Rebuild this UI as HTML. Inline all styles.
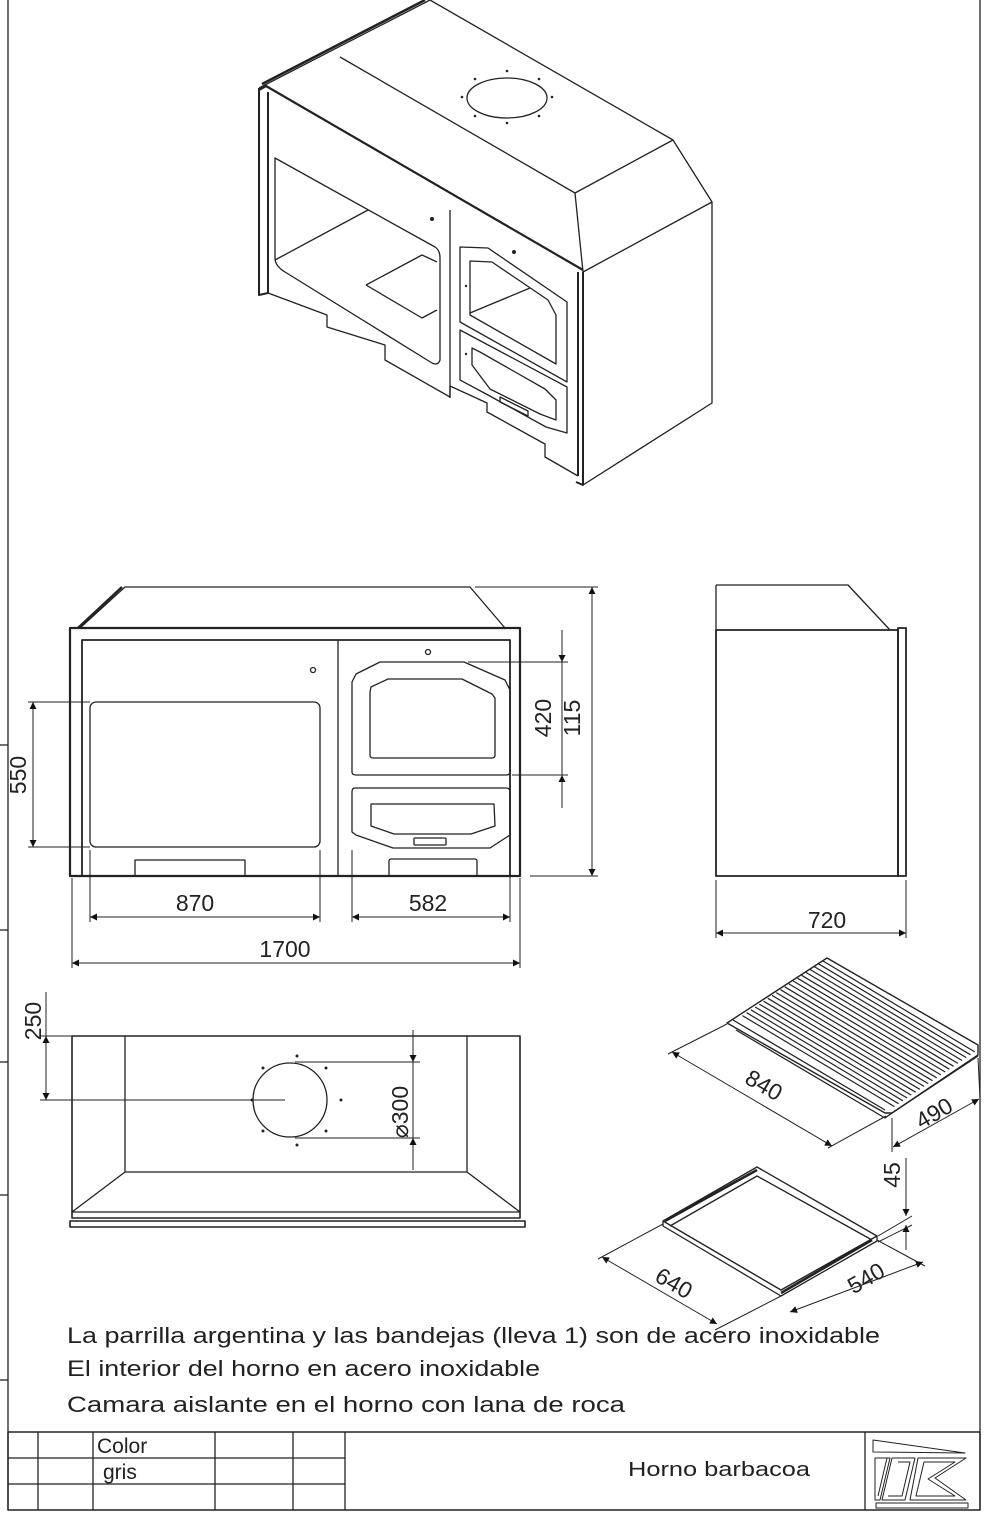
<!DOCTYPE html>
<html><head><meta charset="utf-8"><style>
html,body{margin:0;padding:0;background:#fff}
svg{display:block}
text{font-family:"Liberation Sans",sans-serif;fill:#222}
</style></head><body>
<svg width="994" height="1514" viewBox="0 0 994 1514" xmlns="http://www.w3.org/2000/svg">
<defs>
<marker id="a" viewBox="0 0 10 10" refX="10" refY="5" markerWidth="12" markerHeight="7" orient="auto-start-reverse" markerUnits="userSpaceOnUse"><path d="M0,0 L10,5 L0,10 z" fill="#111"/></marker>
<line id="slat" x1="733" y1="1022" x2="885" y2="1113" stroke="#222" stroke-width="1.2"/>
</defs>
<g fill="none" stroke="#222" stroke-width="1.3" stroke-linejoin="round">
<line x1="8" y1="0" x2="8" y2="1432"/>
<line x1="980" y1="0" x2="980" y2="1432"/>
<line x1="0" y1="745" x2="8" y2="745"/><line x1="0" y1="930" x2="8" y2="930"/>
<line x1="0" y1="1062" x2="8" y2="1062"/><line x1="0" y1="1195" x2="8" y2="1195"/><line x1="0" y1="1380" x2="8" y2="1380"/>

<path d="M259,88 L430,0 M430,0 L673,140 L712,202 L712,403 L583,485 M673,140 L575,193 L583,272 L712,202"/>
<path d="M259,90 L266,86 L583,270" stroke-width="2.2"/>
<path d="M262,84 L425,0" stroke-width="2.5"/>
<line x1="340" y1="57" x2="575" y2="193"/>
<ellipse cx="507" cy="98" rx="40" ry="20"/>
<g fill="#222" stroke="none"><circle cx="475" cy="79" r="1.3"/><circle cx="507" cy="71" r="1.3"/><circle cx="539" cy="79" r="1.3"/><circle cx="552" cy="97" r="1.3"/><circle cx="539" cy="116" r="1.3"/><circle cx="507" cy="123" r="1.3"/><circle cx="475" cy="116" r="1.3"/><circle cx="462" cy="97" r="1.3"/><circle cx="432" cy="219" r="2"/><circle cx="514" cy="252" r="2"/><circle cx="466" cy="286" r="1.2"/><circle cx="466" cy="354" r="1.2"/></g>
<path d="M259,88 L259,295 L268,293 L268,92" stroke-width="2"/>
<path d="M578,272 L578,476 M583,272 L583,485 L576,482" stroke-width="2"/>
<path d="M268,293 L327,315 L327,327 L385,345 L385,360 L450,397 L450,386 L487,403 L487,412 L545,444 L545,457 L578,476"/>
<path d="M275,158 L435,247 Q440,250 440,258 L440,360 Q438,366 432,363 L285,272 Q275,266 275,258 Z"/>
<line x1="275" y1="260" x2="368" y2="210"/><path d="M366,285 L422,255 L437,262 M366,285 L422,318 L437,310"/>
<line x1="450" y1="210" x2="450" y2="398"/>
<path d="M460,247 L488,248 L567,302 L567,382 L460,322 Z"/>
<path d="M470,261 L492,262 L548,300 L556,315 L556,364 L470,315 Z"/>
<line x1="470" y1="313" x2="530" y2="288"/>
<path d="M460,330 L567,387 L567,433 L546,427 L488,395 L460,380 Z"/>
<path d="M472,348 L480,352 L545,389 L556,400 L556,420 L540,414 L490,389 L472,365 Z"/>
<path d="M500,397 L528,411 L528,416 L500,402 Z"/>

<path d="M80,628 L125,587 L470,587 L505,628"/>
<line x1="78" y1="628" x2="122" y2="587" stroke-width="2.5"/>
<rect x="70" y="628" width="450" height="248" stroke-width="2.2"/>
<path d="M82,876 L82,640 L510,640 L510,876" stroke-width="1.8"/>
<line x1="338" y1="640" x2="338" y2="876"/>
<rect x="90" y="702" width="230" height="145" rx="6"/>
<circle cx="313" cy="670" r="2.5"/><circle cx="428" cy="652" r="2.5"/>
<rect x="135" y="860" width="110" height="16"/>
<path d="M356,674 L380,662 L464,662 L505,680 L510,690 L510,772 Q510,775 506,775 L356,775 Q352,775 352,772 L352,682 Z"/>
<path d="M371,687 L388,679 L462,679 L492,694 L495,698 L495,755 Q495,758 492,758 L373,758 Q370,758 370,755 L370,692 Z"/>
<path d="M355,788 L506,788 Q510,788 510,792 L510,835 L490,848 L393,848 L356,835 L352,832 L352,792 Q352,788 355,788 Z"/>
<path d="M371,804 L494,804 L495,826 L471,834 L394,834 L371,826 Z"/>
<rect x="414" y="838" width="32" height="7" rx="1"/>
<rect x="389" y="859" width="88" height="17" rx="2"/>
<g stroke-width="1">
<line x1="28" y1="702" x2="90" y2="702"/><line x1="28" y1="847" x2="90" y2="847"/>
<line x1="33" y1="702" x2="33" y2="847" marker-start="url(#a)" marker-end="url(#a)"/>
<line x1="90" y1="850" x2="90" y2="922"/><line x1="320" y1="850" x2="320" y2="922"/>
<line x1="90" y1="917" x2="320" y2="917" marker-start="url(#a)" marker-end="url(#a)"/>
<line x1="352" y1="850" x2="352" y2="922"/><line x1="510" y1="876" x2="510" y2="922"/>
<line x1="352" y1="917" x2="510" y2="917" marker-start="url(#a)" marker-end="url(#a)"/>
<line x1="72" y1="878" x2="72" y2="968"/><line x1="520" y1="878" x2="520" y2="968"/>
<line x1="72" y1="963" x2="520" y2="963" marker-start="url(#a)" marker-end="url(#a)"/>
<line x1="468" y1="662" x2="568" y2="662"/><line x1="512" y1="775" x2="568" y2="775"/>
<line x1="562" y1="630" x2="562" y2="662" marker-end="url(#a)"/><line x1="562" y1="808" x2="562" y2="775" marker-end="url(#a)"/>
<line x1="562" y1="662" x2="562" y2="775"/>
<line x1="475" y1="587" x2="598" y2="587"/><line x1="530" y1="876" x2="598" y2="876"/>
<line x1="592" y1="587" x2="592" y2="876" marker-start="url(#a)" marker-end="url(#a)"/>
</g>

<path d="M716,585 L848,585 L890,630"/>
<rect x="716" y="630" width="182" height="246" stroke-width="1.8"/>
<rect x="898" y="628" width="8" height="248" stroke-width="1.8"/>
<line x1="716" y1="585" x2="716" y2="630"/>
<g stroke-width="1">
<line x1="716" y1="880" x2="716" y2="938"/><line x1="906" y1="880" x2="906" y2="938"/>
<line x1="716" y1="933" x2="906" y2="933" marker-start="url(#a)" marker-end="url(#a)"/>
</g>

<rect x="72" y="1036" width="448" height="182" stroke-width="1.6"/>
<path d="M125,1036 L125,1172 L467,1172 L467,1036 M125,1172 L72,1212 M467,1172 L520,1212"/>
<line x1="72" y1="1212" x2="520" y2="1212"/>
<rect x="70" y="1221" width="455" height="6" stroke-width="1.6"/>
<circle cx="290" cy="1100" r="37"/>
<g fill="#222" stroke="none"><circle cx="297" cy="1056" r="1.5"/><circle cx="326" cy="1068" r="1.5"/><circle cx="341" cy="1100" r="1.5"/><circle cx="326" cy="1131" r="1.5"/><circle cx="297" cy="1145" r="1.5"/><circle cx="263" cy="1131" r="1.5"/><circle cx="252" cy="1100" r="1.5"/><circle cx="263" cy="1068" r="1.5"/></g>
<g stroke-width="1">
<line x1="40" y1="1036" x2="72" y2="1036"/><line x1="40" y1="1100" x2="285" y2="1100"/>
<line x1="46" y1="992" x2="46" y2="1100"/>
<line x1="46" y1="1036" x2="46" y2="1100" marker-start="url(#a)" marker-end="url(#a)"/>
<line x1="295" y1="1062" x2="420" y2="1062"/><line x1="295" y1="1138" x2="420" y2="1138"/>
<line x1="413" y1="1030" x2="413" y2="1062" marker-end="url(#a)"/><line x1="413" y1="1170" x2="413" y2="1138" marker-end="url(#a)"/>
<line x1="413" y1="1062" x2="413" y2="1138"/>
</g>

<path d="M727,1023 L827,958 L978,1045 L978,1055 L892,1113 L885,1113 Z" stroke-width="1.4"/>
<path d="M733,1020 L885,1110 M736,1030 L885,1118 L892,1113 M892,1113 L978,1056"/>
<use href="#slat" transform="translate(9.4,-6.4)"/><use href="#slat" transform="translate(13.6,-9.3)"/>
<use href="#slat" transform="translate(17.9,-12.2)"/><use href="#slat" transform="translate(22.1,-15)"/>
<use href="#slat" transform="translate(26.3,-17.9)"/><use href="#slat" transform="translate(30.6,-20.8)"/>
<use href="#slat" transform="translate(34.8,-23.7)"/><use href="#slat" transform="translate(39,-26.6)"/>
<use href="#slat" transform="translate(43.2,-29.4)"/><use href="#slat" transform="translate(47.5,-32.3)"/>
<use href="#slat" transform="translate(51.7,-35.2)"/><use href="#slat" transform="translate(55.9,-38.1)"/>
<use href="#slat" transform="translate(60.2,-41)"/><use href="#slat" transform="translate(64.4,-43.8)"/>
<use href="#slat" transform="translate(68.6,-46.7)"/><use href="#slat" transform="translate(72.9,-49.6)"/>
<use href="#slat" transform="translate(77.1,-52.5)"/><use href="#slat" transform="translate(81.3,-55.4)"/>
<use href="#slat" transform="translate(85.5,-58.2)"/><use href="#slat" transform="translate(89.8,-61.1)"/>
<g stroke-width="1">
<line x1="727" y1="1024" x2="668" y2="1054"/><line x1="886" y1="1116" x2="828" y2="1148"/>
<line x1="672" y1="1052" x2="832" y2="1146" marker-start="url(#a)" marker-end="url(#a)"/>
<line x1="892" y1="1118" x2="892" y2="1152"/><line x1="978" y1="1058" x2="980" y2="1098"/>
<line x1="893" y1="1147" x2="979" y2="1099" marker-start="url(#a)" marker-end="url(#a)"/>
</g>

<path d="M663,1221 L757,1167 L877,1236 L781,1290 Z" stroke-width="1.4"/>
<path d="M665,1221 L757,1170" stroke-width="2.5"/>
<path d="M670,1226 L757,1176 L872,1240 M663,1221 L663,1226 L781,1296 L877,1241 L877,1236"/>
<path d="M781,1293 L872,1240" stroke-width="2.5"/>
<g stroke-width="1">
<line x1="663" y1="1224" x2="598" y2="1259"/><line x1="781" y1="1296" x2="715" y2="1330"/>
<line x1="602" y1="1257" x2="717" y2="1324" marker-start="url(#a)" marker-end="url(#a)"/>
<line x1="877" y1="1240" x2="925" y2="1266"/>
<line x1="790" y1="1312" x2="923" y2="1262" marker-start="url(#a)" marker-end="url(#a)"/>
<line x1="878" y1="1236" x2="912" y2="1216"/><line x1="878" y1="1242" x2="912" y2="1225"/>
<line x1="906" y1="1158" x2="906" y2="1216" marker-end="url(#a)"/>
<line x1="906" y1="1250" x2="906" y2="1225" marker-end="url(#a)"/>
</g>

<rect x="8" y="1432" width="972" height="78" stroke-width="1.6"/>
<line x1="8" y1="1458" x2="345" y2="1458"/><line x1="8" y1="1484" x2="345" y2="1484"/>
<line x1="38" y1="1432" x2="38" y2="1510"/><line x1="93" y1="1432" x2="93" y2="1510"/>
<line x1="215" y1="1432" x2="215" y2="1510"/><line x1="293" y1="1432" x2="293" y2="1510"/>
<line x1="345" y1="1432" x2="345" y2="1510"/><line x1="865" y1="1432" x2="865" y2="1510"/>
<g stroke-width="1">
<path d="M873,1440 L965,1453 L873,1452 Z"/>
<path d="M875,1458 L890,1458 L880,1500 L875,1500 Z M880,1458 L887,1458 L878,1496"/>
<path d="M892,1458 L915,1458 L905,1500 L882,1500 Z M898,1462 L910,1462 L902,1496 L888,1496"/>
<path d="M918,1458 L966,1458 L935,1478 L966,1500 L910,1500 Z M924,1462 L955,1462 L928,1479 L955,1496 L916,1496 Z"/>
<path d="M876,1503 L968,1503 L968,1508 L876,1508 Z"/>
</g>
</g>

<g font-size="23">
<text transform="translate(26,775) rotate(-90)" text-anchor="middle">550</text>
<text x="195" y="911" text-anchor="middle">870</text>
<text x="428" y="911" text-anchor="middle">582</text>
<text x="285" y="957" text-anchor="middle">1700</text>
<text transform="translate(551,718) rotate(-90)" text-anchor="middle">420</text>
<text transform="translate(580,718) rotate(-90)" text-anchor="middle">115</text>
<text x="827" y="928" text-anchor="middle">720</text>
<text transform="translate(41,1021) rotate(-90)" text-anchor="middle">250</text>
<text transform="translate(408,1112) rotate(-90)" text-anchor="middle">⌀300</text>
<text transform="translate(760,1092) rotate(30)" text-anchor="middle">840</text>
<text transform="translate(938,1120) rotate(-30)" text-anchor="middle">490</text>
<text transform="translate(900,1175) rotate(-90)" text-anchor="middle">45</text>
<text transform="translate(670,1290) rotate(30)" text-anchor="middle">640</text>
<text transform="translate(870,1285) rotate(-30)" text-anchor="middle">540</text>
</g>
<g font-size="22">
<text x="67" y="1343" textLength="813" lengthAdjust="spacingAndGlyphs">La parrilla argentina y las bandejas (lleva 1) son de acero inoxidable</text>
<text x="67" y="1376" textLength="473" lengthAdjust="spacingAndGlyphs">El interior del horno en acero inoxidable</text>
<text x="67" y="1412" textLength="558" lengthAdjust="spacingAndGlyphs">Camara aislante en el horno con lana de roca</text>
</g>
<text x="97" y="1453" font-size="21">Color</text>
<text x="103" y="1479" font-size="21">gris</text>
<text x="628" y="1476" font-size="20" textLength="182" lengthAdjust="spacingAndGlyphs">Horno barbacoa</text>
</svg>
</body></html>
